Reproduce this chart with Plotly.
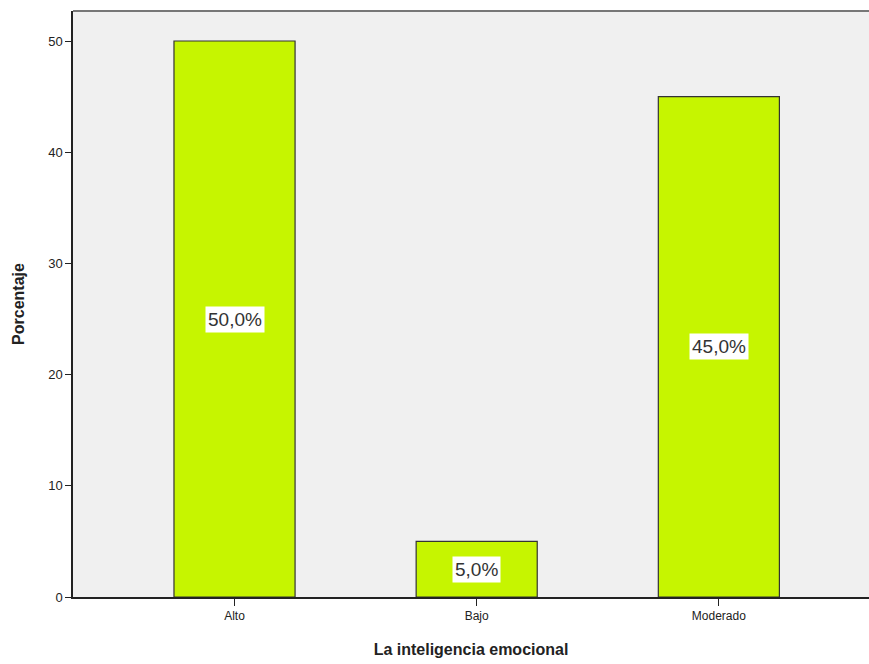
import plotly.graph_objects as go

categories = ["Alto", "Bajo", "Moderado"]
percentages = [50.0, 5.0, 45.0]
y_ticks = [0, 10, 20, 30, 40, 50]

labels = [f"{v:.1f}".replace(".", ",") + "%" for v in percentages]

fig = go.Figure()
fig.add_trace(go.Bar(
    x=categories, y=percentages, width=0.5,
    marker=dict(color="#C6F500", line=dict(color="#333333", width=1.2)),
    hoverinfo="skip", showlegend=False,
))

for c, v, t in zip(categories, percentages, labels):
    fig.add_annotation(x=c, y=v / 2, text=t, showarrow=False,
                       font=dict(family="Arial, Liberation Sans", size=19, color="#333333"),
                       bgcolor="white", borderpad=2)

fig.update_layout(
    width=869, height=664,
    margin=dict(l=73, r=0, t=11, b=67),
    paper_bgcolor="white", plot_bgcolor="#F0F0F0",
    font=dict(family="Arial, Liberation Sans", color="#222222"),
    xaxis=dict(range=[-0.667, 2.62], showline=True, linecolor="#222222", linewidth=1.5,
               ticks="outside", ticklen=7, tickcolor="#222222", tickfont=dict(size=12),
               title=dict(text="<b>La inteligencia emocional</b>", font=dict(size=16), standoff=22),
               showgrid=False, mirror=False),
    yaxis=dict(range=[0, 52.7], tickvals=y_ticks, showline=True, linecolor="#222222", linewidth=1.5,
               ticks="outside", ticklen=6, tickcolor="#222222", tickfont=dict(size=13),
               title=dict(text="<b>Porcentaje</b>", font=dict(size=16), standoff=20),
               showgrid=False, zeroline=False),
)
fig.add_shape(type="line", xref="paper", yref="paper", x0=0, x1=1, y0=1, y1=1,
              line=dict(color="#777777", width=2))

fig.write_html("out.html", config={"displayModeBar": False},
               post_script="document.body.style.margin='0';document.body.style.overflow='hidden';")
